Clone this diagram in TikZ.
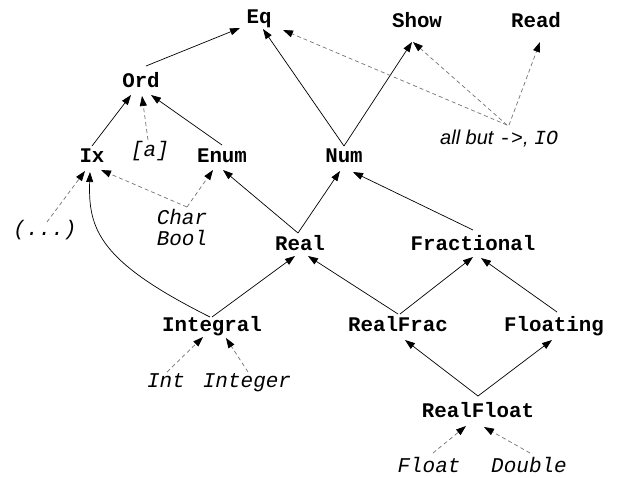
\documentclass[tikz,border=0pt]{standalone}
\usepackage{fontspec}
\setmainfont{Liberation Serif}
\setsansfont{Liberation Sans}
\setmonofont{Liberation Mono}
\usetikzlibrary{arrows.meta,calc}
\tikzset{
  cls/.style={anchor=base,inner sep=0pt,font=\fontsize{20.8}{24}\selectfont\ttfamily\bfseries},
  typ/.style={anchor=base,inner sep=0pt,font=\fontsize{21}{24}\selectfont\ttfamily\itshape},
  isa/.style={line width=0.7pt,-{Triangle[length=10pt,width=7pt]}},
  inst/.style={line width=0.7pt,draw=black!55,dash pattern=on 4pt off 3pt,-{Triangle[length=10pt,width=7pt,color=black]}}
}
\begin{document}
\begin{tikzpicture}[x=1pt,y=-1pt]
\useasboundingbox (0,0) rectangle (618,477);
% classes
\node[cls] (Eq) at (259,23) {Eq};
\node[cls] (Show) at (417,27) {Show};
\node[cls] (Read) at (536,27) {Read};
\node[cls] (Ord) at (141,87) {Ord};
\node[cls] (Ix) at (92,162) {Ix};
\node[cls] (Enum) at (222,162) {Enum};
\node[cls] (Num) at (344,162) {Num};
\node[cls] (Real) at (300,250) {Real};
\node[cls] (Fractional) at (473,250) {Fractional};
\node[cls] (Integral) at (212,331) {Integral};
\node[cls] (RealFrac) at (398,331) {RealFrac};
\node[cls] (Floating) at (554,331) {Floating};
\node[cls] (RealFloat) at (478,417) {RealFloat};
% types
\node[typ] (a) at (150,156) {[a]};
\node[typ] (Char) at (182,224) {Char};
\node[typ] (Bool) at (182,245) {Bool};
\node[typ] (dots) at (45,235) {(...)};
\node[typ] (Int) at (166,387) {Int};
\node[typ] (Integer) at (247,387) {Integer};
\node[typ] (Float) at (429,472) {Float};
\node[typ] (Double) at (529,472) {Double};
\node[anchor=base west,inner sep=0pt,font=\fontsize{20}{24}\selectfont] (allbut) at (440,144)
  {{\sffamily\itshape all but }{\ttfamily ->}{\sffamily\itshape , }{\ttfamily\itshape IO}};
% class hierarchy
\draw[isa] ($(Ord.base)+(5,-21)$) -- ($(Eq.base)+(-19,5)$);
\draw[isa] ($(Ix.base)+(0,-16)$) -- ($(Ord.base)+(-10,8)$);
\draw[isa] ($(Enum.base)+(0,-17)$) -- ($(Ord.base)+(10,8)$);
\draw[isa] ($(Num.base)+(0,-16)$) -- ($(Eq.base)+(4,6)$);
\draw[isa] ($(Num.base)+(0,-16)$) -- ($(Show.base)+(-5,15)$);
\draw[isa] ($(Real.base)+(-2,-17)$) -- ($(Enum.base)+(1,8)$);
\draw[isa] ($(Real.base)+(-2,-17)$) -- ($(Num.base)+(-4,9)$);
\draw[isa] ($(Fractional.base)+(0,-20)$) -- ($(Num.base)+(9,10)$);
\draw[isa] ($(Integral.base)+(-2,-14)$) .. controls (100,262) and (88,230) .. ($(Ix.base)+(-2,10)$);
\draw[isa] ($(Integral.base)+(0,-14)$) -- ($(Real.base)+(-5,6)$);
\draw[isa] ($(RealFrac.base)+(0,-17)$) -- ($(Real.base)+(8,6)$);
\draw[isa] ($(RealFrac.base)+(2,-17)$) -- ($(Fractional.base)+(0,7)$);
\draw[isa] ($(Floating.base)+(3,-19)$) -- ($(Fractional.base)+(8,8)$);
\draw[isa] ($(RealFloat.base)+(0,-21)$) -- ($(RealFrac.base)+(7,9)$);
\draw[isa] ($(RealFloat.base)+(0,-21)$) -- ($(Floating.base)+(-2,9)$);
% instances
\draw[inst] ($(a.base)+(-2,-16)$) -- ($(Ord.base)+(1,9)$);
\draw[inst] ($(Int.base)+(1,-15)$) -- ($(Integral.base)+(-9,6)$);
\draw[inst] ($(Integer.base)+(1,-15)$) -- ($(Integral.base)+(14,7)$);
\draw[inst] ($(Float.base)+(4,-19)$) -- ($(RealFloat.base)+(-12,9)$);
\draw[inst] ($(Double.base)+(1,-19)$) -- ($(RealFloat.base)+(6,10)$);
\draw[inst] ($(Char.base)+(5,-17)$) -- ($(Ix.base)+(9,8)$);
\draw[inst] ($(Char.base)+(5,-17)$) -- ($(Enum.base)+(-9,8)$);
\draw[inst] ($(dots.base)+(2,-13)$) -- ($(Ix.base)+(-7,9)$);
\draw[inst] ($(allbut.base west)+(67,-19)$) -- ($(Eq.base)+(24,7)$);
\draw[inst] ($(allbut.base west)+(67,-19)$) -- ($(Show.base)+(-4,15)$);
\draw[inst] ($(allbut.base west)+(69,-19)$) -- ($(Read.base)+(4,15)$);
\end{tikzpicture}
\end{document}
